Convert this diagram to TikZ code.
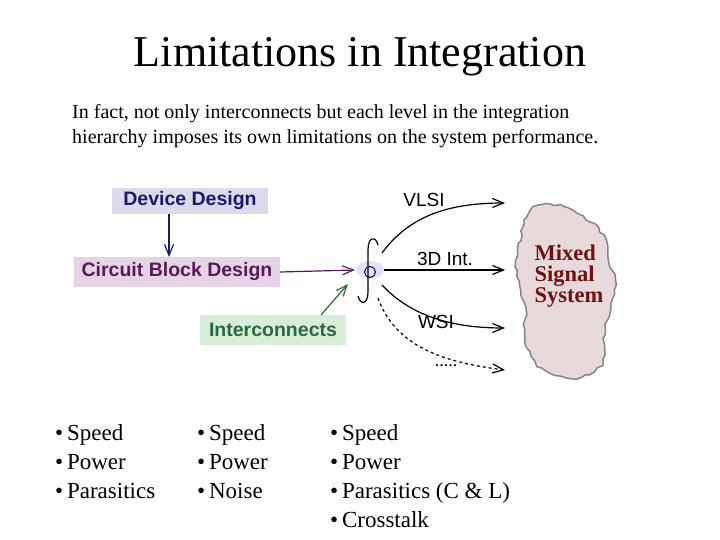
\documentclass[tikz,border=0pt]{standalone}
\usepackage{fontspec}
\setmainfont{Liberation Serif}
\newfontfamily\arialf{Liberation Sans}
\usetikzlibrary{arrows.meta,decorations.pathmorphing}
\definecolor{ddbox}{HTML}{DCDAEA}
\definecolor{cbbox}{HTML}{E4D4E6}
\definecolor{icbox}{HTML}{D8EED8}
\definecolor{ddtxt}{HTML}{1A1A70}
\definecolor{cbtxt}{HTML}{5A1A5A}
\definecolor{ictxt}{HTML}{2A6A3A}
\definecolor{blobf}{HTML}{E8DADA}
\definecolor{blobt}{HTML}{701010}
\tikzset{
  lbox/.style={inner sep=0pt, font=\arialf\bfseries\fontsize{19.5}{22}\selectfont},
  arr/.style={-{Straight Barb[length=11pt,width=9pt]}, line width=1.2pt},
  lab/.style={font=\arialf\fontsize{19}{22}\selectfont},
  bul/.style={anchor=north west, align=left, font=\fontsize{23}{29}\selectfont, inner sep=0pt}
}
\begin{document}
\begin{tikzpicture}[x=1pt,y=-1pt]
\useasboundingbox (0,0) rectangle (720,540);
\node (title) at (360,57) {\fontsize{44}{48}\selectfont Limitations in Integration};
\node[anchor=north west, align=left, inner sep=0pt, font=\fontsize{20}{25}\selectfont] (para) at (72,104)
 {In fact, not only interconnects but each level in the integration\\hierarchy imposes its own limitations on the system performance.};
\node[lbox, fill=ddbox, text=ddtxt, minimum width=156pt, minimum height=26pt] (dd) at (190,201) {Device Design};
\node[lbox, fill=cbbox, text=cbtxt, minimum width=206pt, minimum height=30pt] (cb) at (177,272) {Circuit Block Design};
\node[lbox, fill=icbox, text=ictxt, minimum width=146pt, minimum height=30pt] (ic) at (273,330) {Interconnects};
% integration symbol
\fill[blue!15, opacity=0.8] (370,270) ellipse (14pt and 9pt);
\node[draw, circle, inner sep=0pt, minimum size=11pt, line width=0.9pt] (hub) at (370,272) {};
\draw[line width=1.2pt] (378,245) .. controls (376,236) and (368,236) .. (368,250) -- (368,292) .. controls (368,305) and (360,305) .. (358,296);
\draw[arr, ddtxt] (dd.south -| 169,0) -- (169,257);
\draw[arr, cbtxt] (cb.east) -- (355,270);
\draw[arr, ictxt] (321,315) -- (348,284);
\coordinate (o1) at (382,253);
\coordinate (o2) at (384,270);
\coordinate (o3) at (382,285);
\coordinate (o4) at (378,298);
\coordinate (e1) at (505,203);
\coordinate (e2) at (505,270);
\coordinate (e3) at (505,328);
\coordinate (e4) at (505,370);
\draw[arr] (o1) .. controls (410,215) and (450,203) .. (e1);
\draw[arr] (o2) -- (e2);
\draw[arr] (o3) .. controls (410,315) and (450,328) .. (e3);
\draw[arr, dashed] (o4) .. controls (395,345) and (440,362) .. (e4);
\node[lab] (vlsi) at (424,200) {VLSI};
\node[lab] (int3) at (445,259) {3D Int.};
\node[lab] (wsi) at (436,322) {WSI};
\node[font=\fontsize{18}{18}\selectfont] (dots) at (446,366) {.....};
% blob
\draw[blobf!60!black, line width=1.5pt, fill=blobf, decorate, decoration={random steps, segment length=5pt, amplitude=1.5pt}]
 (540,205) .. controls (560,200) and (580,215) .. (590,222)
 .. controls (610,235) and (605,250) .. (612,270)
 .. controls (622,300) and (600,320) .. (605,345)
 .. controls (610,370) and (580,385) .. (555,375)
 .. controls (530,370) and (522,340) .. (525,320)
 .. controls (528,300) and (512,280) .. (518,255)
 .. controls (522,230) and (522,212) .. (540,205) -- cycle;
\node[align=left, text=blobt, font=\bfseries\fontsize{22.5}{21}\selectfont, inner sep=0pt] (mss) at (569,276) {Mixed\\Signal\\System};
\node[bul] (b1) at (55,424) {\textbullet\,Speed\\\textbullet\,Power\\\textbullet\,Parasitics};
\node[bul] (b2) at (197,424) {\textbullet\,Speed\\\textbullet\,Power\\\textbullet\,Noise};
\node[bul] (b3) at (330,424) {\textbullet\,Speed\\\textbullet\,Power\\\textbullet\,Parasitics (C \& L)\\\textbullet\,Crosstalk};
\end{tikzpicture}
\end{document}
